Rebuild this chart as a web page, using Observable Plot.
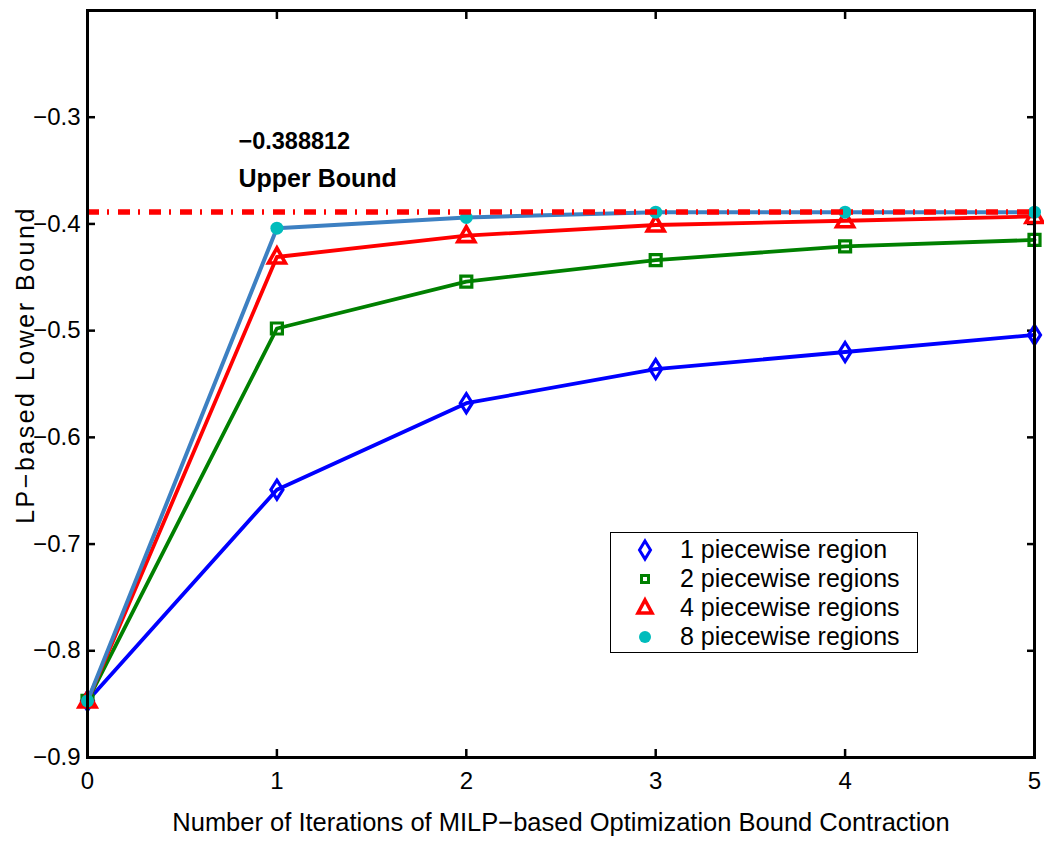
<!DOCTYPE html>
<html>
<head>
<meta charset="utf-8">
<script src="https://cdn.jsdelivr.net/npm/d3@7"></script>
<script src="https://cdn.jsdelivr.net/npm/@observablehq/plot@0.6"></script>
<style>
  body { margin: 0; background: #fff; font-family: "Liberation Sans", Arial, sans-serif; }
  #wrap { position: relative; width: 1044px; height: 846px; }
  #legend { position: absolute; left: 610px; top: 532px; width: 308px; height: 121px;
    border: 1.5px solid #000; background: #fff; box-sizing: border-box; }
  .row { position: absolute; left: 0; height: 29px; }
  .row svg { position: absolute; left: 24px; }
  .row span { position: absolute; left: 69px; top: -1px; font-size: 25px; line-height: 29px; white-space: nowrap; color: #000; }
</style>
</head>
<body>
<div id="wrap"></div>
<script>
const iterations = [0, 1, 2, 3, 4, 5];
const seriesNames = ["1 piecewise region", "2 piecewise regions", "4 piecewise regions", "8 piecewise regions"];
const region1 = [-0.847, -0.649, -0.568, -0.536, -0.520, -0.504];
const region2 = [-0.847, -0.498, -0.454, -0.434, -0.421, -0.415];
const region4 = [-0.847, -0.431, -0.411, -0.401, -0.397, -0.393];
const region8 = [-0.847, -0.404, -0.394, -0.389, -0.389, -0.389];
const upperBound = -0.388812;
const xTicks = [0, 1, 2, 3, 4, 5];
const yTicks = [-0.9, -0.8, -0.7, -0.6, -0.5, -0.4, -0.3];
const yTicksAll = [-0.9, -0.8, -0.7, -0.6, -0.5, -0.4, -0.3, -0.2];

const lineColors = ["#0000ff", "#008000", "#ff0000", "#3d80c2"];
const markerColors = ["#0000ff", "#008000", "#ff0000", "#00bcbc"];

const diamond = { draw(ctx, size) { ctx.moveTo(0, -9.5); ctx.lineTo(6, 0); ctx.lineTo(0, 9.5); ctx.lineTo(-6, 0); ctx.closePath(); } };
const square = { draw(ctx, size) { ctx.rect(-5.5, -5.5, 11, 11); } };
const triangle = { draw(ctx, size) { ctx.moveTo(0, -9); ctx.lineTo(8.5, 6); ctx.lineTo(-8.5, 6); ctx.closePath(); } };

const all = [region1, region2, region4, region8];
const data = [];
all.forEach((arr, s) => arr.forEach((v, i) => data.push({ s, x: iterations[i], y: v })));
const ser = (s) => data.filter(d => d.s === s);

const fmt = d => d3.format(".1f")(d).replace("-", "\u2212");
const yLabel = "LP\u2212based Lower Bound";

const plot = Plot.plot({
  width: 1044,
  height: 846,
  marginLeft: 87,
  marginRight: 10,
  marginTop: 10,
  marginBottom: 89,
  style: { fontFamily: "'Liberation Sans', Arial, sans-serif", fontSize: "24px", background: "#fff" },
  x: { domain: [0, 5] },
  y: { domain: [-0.9, -0.2] },
  marks: [
    Plot.axisX({ ticks: xTicks, tickSize: -8, tickPadding: 22, strokeWidth: 2.5, fontSize: 24, label: null, tickFormat: d => String(d) }),
    Plot.axisX({ anchor: "top", ticks: xTicks, tickSize: -8, strokeWidth: 2.5, label: null, tickFormat: () => "" }),
    Plot.axisY({ ticks: yTicks, tickSize: -8, tickPadding: 15, strokeWidth: 2.5, fontSize: 24, label: null, tickFormat: fmt }),
    Plot.axisY({ anchor: "right", ticks: yTicksAll, tickSize: -8, strokeWidth: 2.5, label: null, tickFormat: () => "" }),
    Plot.line(ser(0), { x: "x", y: "y", stroke: lineColors[0], strokeWidth: 3.8 }),
    Plot.dot(ser(0), { x: "x", y: "y", stroke: markerColors[0], strokeWidth: 3.2, fill: "none", symbol: diamond, r: 6 }),
    Plot.line(ser(1), { x: "x", y: "y", stroke: lineColors[1], strokeWidth: 3.8 }),
    Plot.dot(ser(1), { x: "x", y: "y", stroke: markerColors[1], strokeWidth: 3.2, fill: "none", symbol: square, r: 6 }),
    Plot.line(ser(2), { x: "x", y: "y", stroke: lineColors[2], strokeWidth: 3.8 }),
    Plot.dot(ser(2), { x: "x", y: "y", stroke: markerColors[2], strokeWidth: 3.6, fill: "none", symbol: triangle, r: 6 }),
    Plot.line(ser(3), { x: "x", y: "y", stroke: lineColors[3], strokeWidth: 4 }),
    Plot.dot(ser(3), { x: "x", y: "y", fill: markerColors[3], stroke: "none", r: 6.5 }),
    Plot.ruleY([upperBound], { stroke: "#ff0000", strokeWidth: 5.5, strokeDasharray: "12,8,2,9" }),
    Plot.text(["\u22120.388812"], { x: 0.797, y: -0.3225, text: d => d, textAnchor: "start", fontWeight: "bold", fontSize: 23.5, fill: "#000" }),
    Plot.text(["Upper Bound"], { x: 0.797, y: -0.358, text: d => d, textAnchor: "start", fontWeight: "bold", fontSize: 25, fill: "#000" }),
    Plot.frame({ stroke: "#000", strokeWidth: 3 }),
    Plot.text(["Number of Iterations of MILP\u2212based Optimization Bound Contraction"], { frameAnchor: "bottom", dy: 73, text: d => d, textAnchor: "middle", fontSize: 25.5, fill: "#000" }),
    Plot.text([yLabel], { frameAnchor: "left", dx: -62, dy: -19, rotate: -90, text: d => d, textAnchor: "middle", fontSize: 25, fill: "#000" })
  ]
});

const wrap = document.getElementById("wrap");
wrap.appendChild(plot);
// widen the y label's letter spacing to match the reference
plot.querySelectorAll("text").forEach(t => { if (t.textContent === yLabel) t.style.letterSpacing = "2.5px"; });

// legend
const legend = document.createElement("div");
legend.id = "legend";
const symPaths = [
  '<path d="M10,3 L15.5,12 L10,21 L4.5,12 Z" fill="none" stroke="#0000ff" stroke-width="3"/>',
  '<rect x="6.5" y="8.5" width="7" height="7" fill="none" stroke="#008000" stroke-width="3"/>',
  '<path d="M10,4 L17,17 L3,17 Z" fill="none" stroke="#ff0000" stroke-width="3.5"/>',
  '<circle cx="10" cy="12" r="6" fill="#00bcbc"/>'
];
seriesNames.forEach((name, i) => {
  const row = document.createElement("div");
  row.className = "row";
  row.style.top = (3 + i * 29) + "px";
  row.innerHTML = `<svg width="20" height="24" style="top:2px">${symPaths[i]}</svg><span>${name}</span>`;
  legend.appendChild(row);
});
wrap.appendChild(legend);
</script>
</body>
</html>
